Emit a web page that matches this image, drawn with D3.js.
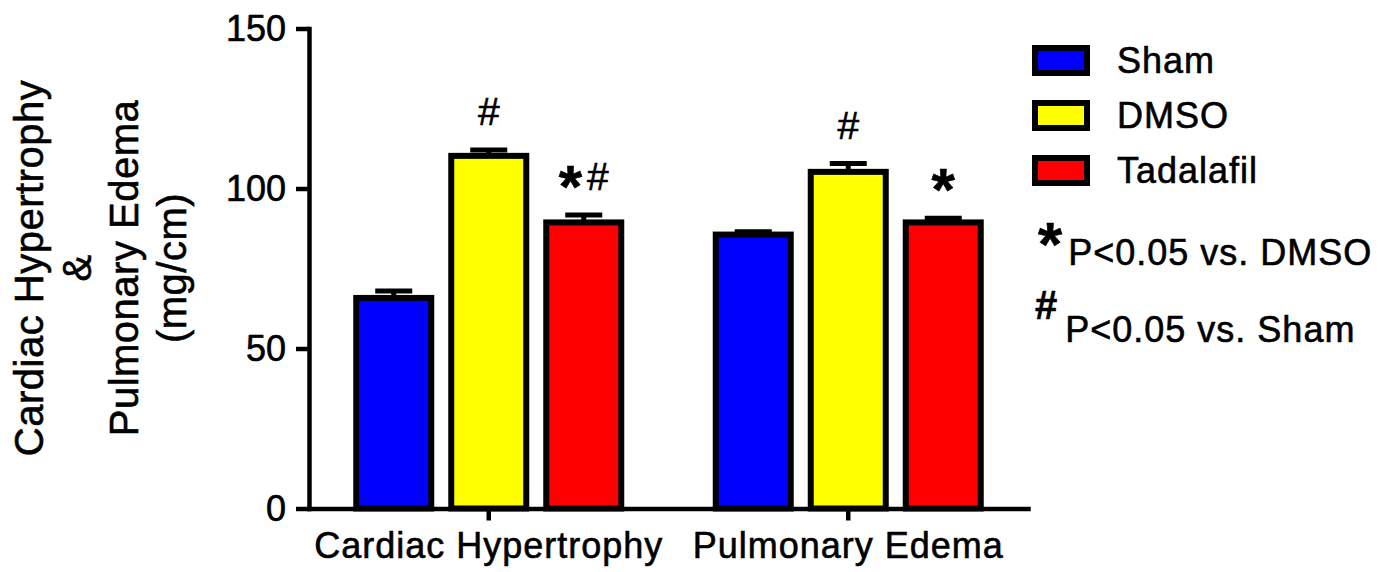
<!DOCTYPE html>
<html>
<head>
<meta charset="utf-8">
<script src="https://cdn.jsdelivr.net/npm/d3@7"></script>
<style>
  body { margin: 0; background: #fff; }
  svg text { font-family: "Liberation Sans", Arial, sans-serif; fill: #000; stroke: #000; stroke-width: 0.6px; }
</style>
</head>
<body>
<div id="graphe"></div>
<script>
//----------------------------------------------------------------
// data
var categories = ["Cardiac Hypertrophy", "Pulmonary Edema"];
var groupes = ["Sham", "DMSO", "Tadalafil"];

var sham = [65.8, 85.6];
var dmso = [110.2, 105.2];
var tadalafil = [89.4, 89.4];

var shamSem = [2.2, 0.9];
var dmsoSem = [1.8, 2.6];
var tadalafilSem = [2.3, 1.3];

// significance marks above each bar
var shamSig = ["", ""];
var dmsoSig = ["#", "#"];
var tadalafilSig = ["*#", "*"];

var yTicks = [0, 50, 100, 150];
var yTitre = ["Cardiac Hypertrophy", "&", "Pulmonary Edema", "(mg/cm)"];
var notes = [["*", "P<0.05 vs. DMSO"], ["#", "P<0.05 vs. Sham"]];

var couleurs = ["#0000ff", "#ffff00", "#ff0000"];

//----------------------------------------------------------------
// table of bars built from the arrays
var moyennes = [sham, dmso, tadalafil];
var sems = [shamSem, dmsoSem, tadalafilSem];
var sigs = [shamSig, dmsoSig, tadalafilSig];
var barres = [];
categories.forEach(function(c, i) {
  groupes.forEach(function(g, j) {
    barres.push({cat: c, groupe: g, v: moyennes[j][i], sem: sems[j][i], sig: sigs[j][i], couleur: couleurs[j]});
  });
});

//----------------------------------------------------------------
// svg
var largeur = 1378, hauteur = 572;
var svg = d3.select("#graphe")
  .append("svg")
  .attr("width", largeur)
  .attr("height", hauteur);

var y = d3.scaleLinear()
  .domain([0, 150])
  .range([508.5, 28.5]);

var x0 = d3.scaleBand()
  .domain(categories)
  .range([309, 1028]);

var x1 = d3.scaleBand()
  .domain(groupes)
  .range([-142.5, 142.5])
  .paddingInner(20 / 95)
  .paddingOuter(10 / 95);

//----------------------------------------------------------------
// axes
var axeY = svg.append("g")
  .attr("transform", "translate(309,0)")
  .call(d3.axisLeft(y).tickValues(yTicks).tickSize(13).tickSizeOuter(0).tickPadding(10));

var axeX = svg.append("g")
  .attr("transform", "translate(0," + y(0) + ")")
  .call(d3.axisBottom(x0).tickSize(12).tickSizeOuter(0).tickPadding(12));

[axeY, axeX].forEach(function(a) {
  a.select(".domain").attr("stroke", "#000").attr("stroke-width", 4.5).attr("stroke-linecap", "square");
  a.selectAll(".tick line").attr("stroke", "#000").attr("stroke-width", 4.5);
  a.selectAll(".tick text")
    .attr("font-size", "36px")
    .attr("font-family", "Liberation Sans, Arial, sans-serif")
    .attr("fill", "#000");
});
axeY.selectAll(".tick text").attr("dy", "0.34em");
axeX.selectAll(".tick text").attr("letter-spacing", "1px");

//----------------------------------------------------------------
// bars
svg.selectAll(".barre")
  .data(barres)
  .enter()
  .append("rect")
  .attr("class", "barre")
  .attr("x", function(d) { return x0(d.cat) + x0.bandwidth() / 2 + x1(d.groupe); })
  .attr("y", function(d) { return y(d.v); })
  .attr("width", x1.bandwidth())
  .attr("height", function(d) { return y(0) - y(d.v); })
  .attr("fill", function(d) { return d.couleur; })
  .attr("stroke", "#000")
  .attr("stroke-width", 6);

// error bars (upper only)
function centre(d) { return x0(d.cat) + x0.bandwidth() / 2 + x1(d.groupe) + x1.bandwidth() / 2; }

svg.selectAll(".erreur")
  .data(barres)
  .enter()
  .append("line")
  .attr("class", "erreur")
  .attr("x1", centre).attr("x2", centre)
  .attr("y1", function(d) { return y(d.v); })
  .attr("y2", function(d) { return y(d.v + d.sem); })
  .attr("stroke", "#000")
  .attr("stroke-width", 5);

svg.selectAll(".cap")
  .data(barres)
  .enter()
  .append("line")
  .attr("class", "cap")
  .attr("x1", function(d) { return centre(d) - 18.5; })
  .attr("x2", function(d) { return centre(d) + 18.5; })
  .attr("y1", function(d) { return y(d.v + d.sem); })
  .attr("y2", function(d) { return y(d.v + d.sem); })
  .attr("stroke", "#000")
  .attr("stroke-width", 5);

// significance marks
var marques = svg.selectAll(".sig")
  .data(barres.filter(function(d) { return d.sig != ""; }))
  .enter()
  .append("text")
  .attr("class", "sig")
  .attr("text-anchor", "middle")
  .attr("x", centre)
  .attr("y", function(d) { return y(d.v + d.sem) - 25; });

marques.each(function(d) {
  var t = d3.select(this);
  var decal = 0;
  d.sig.split("").forEach(function(ch, k) {
    if (ch == "*") {
      t.append("tspan").text("*")
        .attr("font-size", "60px").attr("font-weight", "bold")
        .attr("dy", 17 - decal);
      decal = 17;
    } else {
      t.append("tspan").text(ch)
        .attr("font-size", "39px")
        .attr("dx", k > 0 ? 5 : 0)
        .attr("dy", -decal);
      decal = 0;
    }
  });
});

//----------------------------------------------------------------
// y title
svg.append("g")
  .selectAll("text")
  .data(yTitre)
  .enter()
  .append("text")
  .attr("transform", "rotate(-90)")
  .attr("text-anchor", "middle")
  .attr("x", -268)
  .attr("y", function(d, i) { return 43 + i * 47.5; })
  .attr("font-size", "40px")
  .attr("letter-spacing", "0.5px")
  .text(function(d) { return d; });

//----------------------------------------------------------------
// legend
var legende = svg.append("g")
  .selectAll("g")
  .data(groupes)
  .enter()
  .append("g")
  .attr("transform", function(d, i) { return "translate(0," + (i * 55) + ")"; });

legende.append("rect")
  .attr("x", 1035).attr("y", 48)
  .attr("width", 52).attr("height", 25)
  .attr("fill", function(d, i) { return couleurs[i]; })
  .attr("stroke", "#000")
  .attr("stroke-width", 6);

legende.append("text")
  .attr("x", 1117).attr("y", 73)
  .attr("font-size", "36px")
  .attr("letter-spacing", "1px")
  .text(function(d) { return d; });

// notes
var note1 = svg.append("text").attr("x", 1038).attr("y", 265);
note1.append("tspan").text(notes[0][0]).attr("font-size", "62px").attr("font-weight", "bold");
note1.append("tspan").text(notes[0][1]).attr("font-size", "36px").attr("letter-spacing", "1px").attr("dx", 6);

var note2 = svg.append("text").attr("x", 1035).attr("y", 319);
note2.append("tspan").text(notes[1][0]).attr("font-size", "40px").attr("font-weight", "bold");
note2.append("tspan").text(notes[1][1]).attr("font-size", "36px").attr("letter-spacing", "1px").attr("dx", 8).attr("dy", 23);
</script>
</body>
</html>
